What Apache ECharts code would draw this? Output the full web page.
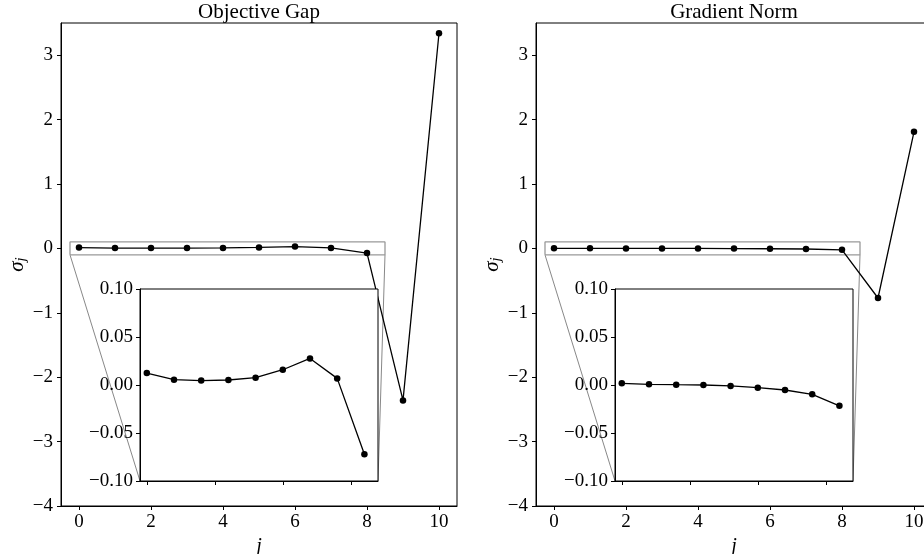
<!DOCTYPE html>
<html>
<head>
<meta charset="utf-8">
<script src="https://cdn.jsdelivr.net/npm/echarts@6/dist/echarts.min.js"></script>
<style>
  html, body { margin: 0; padding: 0; overflow: hidden; background: #fff; }
  #chart { width: 960px; height: 554px; }
</style>
</head>
<body>
<div id="chart"></div>
<script>
// sigma_j per step j, two panels
const steps = [0, 1, 2, 3, 4, 5, 6, 7, 8, 9, 10];
const objectiveGap = [0.0124, 0.0055, 0.0046, 0.0052, 0.0076, 0.0159, 0.0277, 0.0069, -0.0722, -2.36, 3.34];
const gradientNorm = [0.0017, 0.0007, 0.0003, 0.0, -0.001, -0.0028, -0.0052, -0.0097, -0.0217, -0.77, 1.81];
const panelTitles = ['Objective Gap', 'Gradient Norm'];

const mainXTicks = [0, 2, 4, 6, 8, 10];
const mainYTicks = [-4, -3, -2, -1, 0, 1, 2, 3];
const insetXTicks = [0, 2.5, 5, 7.5];
const insetYTicks = [-0.1, -0.05, 0, 0.05, 0.1];
const insetCount = 9; // inset shows j = 0..8

// zoom window (same for both panels)
const zoomX = [-0.25, 8.5];
const zoomY = [-0.1, 0.1];

const FONT = '"Liberation Serif", "DejaVu Serif", serif';
const panelLeft = [61, 536];

const fmtMinus = (v, d) => (v < 0 ? '\u2212' : '') + Math.abs(v).toFixed(d);

const chart = echarts.init(document.getElementById('chart'));

const grids = [], xAxes = [], yAxes = [], series = [], titles = [];

[objectiveGap, gradientNorm].forEach((vals, p) => {
  const left = panelLeft[p];
  const mainIdx = p * 2;
  const insetIdx = p * 2 + 1;
  const pts = steps.map((j, i) => [j, vals[i]]);

  titles.push({
    text: panelTitles[p],
    left: left + 198,
    top: 2,
    padding: 0,
    textAlign: 'center',
    textStyle: { fontFamily: FONT, fontSize: 21, fontWeight: 'normal', color: '#000' }
  });

  grids.push({
    left: left, top: 23, width: 396, height: 483, outerBoundsMode: 'none', containLabel: false,
    show: true, backgroundColor: '#fff', borderColor: '#000', borderWidth: 1, z: 0
  });
  grids.push({
    left: left + 79, top: 289, width: 238, height: 192, outerBoundsMode: 'none', containLabel: false,
    show: true, backgroundColor: '#fff', borderColor: '#000', borderWidth: 1, z: 3
  });

  const baseAxis = {
    type: 'value',
    splitLine: { show: false },
    axisLine: { show: true, onZero: false, lineStyle: { color: '#000', width: 1 } },
    axisTick: { show: true, length: 4, lineStyle: { color: '#000', width: 1 } }
  };

  xAxes.push(Object.assign({}, baseAxis, {
    gridIndex: mainIdx, min: -0.5, max: 10.5,
    axisTick: Object.assign({}, baseAxis.axisTick, { customValues: mainXTicks }),
    axisLabel: { customValues: mainXTicks, margin: 7, fontFamily: FONT, fontSize: 19, color: '#000' },
    name: 'j', nameLocation: 'middle', nameGap: 22,
    nameTextStyle: { fontFamily: FONT, fontStyle: 'italic', fontSize: 20, color: '#000' }
  }));
  yAxes.push(Object.assign({}, baseAxis, {
    gridIndex: mainIdx, min: -4, max: 3.5,
    axisTick: Object.assign({}, baseAxis.axisTick, { customValues: mainYTicks }),
    axisLabel: {
      customValues: mainYTicks, margin: 8, fontFamily: FONT, fontSize: 19, color: '#000',
      formatter: (v) => fmtMinus(v, 0)
    },
    name: '{s|σ}{j|j}', nameLocation: 'middle', nameGap: 32, nameRotate: 90,
    nameTextStyle: {
      color: '#000',
      rich: {
        s: { fontFamily: FONT, fontStyle: 'italic', fontSize: 21, color: '#000' },
        j: { fontFamily: FONT, fontStyle: 'italic', fontSize: 15, color: '#000', padding: [8, 0, 0, 0] }
      }
    }
  }));

  xAxes.push(Object.assign({}, baseAxis, {
    gridIndex: insetIdx, min: zoomX[0], max: zoomX[1], z: 4,
    axisTick: Object.assign({}, baseAxis.axisTick, { customValues: insetXTicks }),
    axisLabel: { show: false }
  }));
  yAxes.push(Object.assign({}, baseAxis, {
    gridIndex: insetIdx, min: zoomY[0], max: zoomY[1], z: 4,
    axisTick: Object.assign({}, baseAxis.axisTick, { customValues: insetYTicks }),
    axisLabel: {
      customValues: insetYTicks, margin: 7, fontFamily: FONT, fontSize: 19, color: '#000',
      formatter: (v) => fmtMinus(v, 2)
    }
  }));

  const lineStyle = { color: '#000', width: 1.3 };
  series.push({
    type: 'line', xAxisIndex: mainIdx, yAxisIndex: mainIdx, data: pts, z: 2,
    symbol: 'circle', symbolSize: 6.5, lineStyle, itemStyle: { color: '#000' }, animation: false
  });
  // zoom window outline on the main axes
  series.push({
    type: 'line', xAxisIndex: mainIdx, yAxisIndex: mainIdx, z: 1, symbol: 'none', animation: false,
    data: [[zoomX[0], zoomY[0]], [zoomX[1], zoomY[0]], [zoomX[1], zoomY[1]], [zoomX[0], zoomY[1]], [zoomX[0], zoomY[0]]],
    lineStyle: { color: '#999', width: 1.3 }
  });
  series.push({
    type: 'line', xAxisIndex: insetIdx, yAxisIndex: insetIdx, data: pts.slice(0, insetCount), z: 5,
    symbol: 'circle', symbolSize: 6.5, lineStyle, itemStyle: { color: '#000' }, clip: true, animation: false
  });
});

chart.setOption({
  animation: false,
  title: titles,
  grid: grids,
  xAxis: xAxes,
  yAxis: yAxes,
  series: series
});

// connector lines from zoom window corners to inset corners
const connectors = [];
[0, 1].forEach((p) => {
  const m = p * 2, s = p * 2 + 1;
  [zoomX[0], zoomX[1]].forEach((x) => {
    const a = chart.convertToPixel({ xAxisIndex: m, yAxisIndex: m }, [x, zoomY[0]]);
    const b = chart.convertToPixel({ xAxisIndex: s, yAxisIndex: s }, [x, zoomY[0]]);
    connectors.push({
      type: 'line', z: 1, silent: true,
      shape: { x1: a[0], y1: a[1], x2: b[0], y2: b[1] },
      style: { stroke: '#888', lineWidth: 1 }
    });
  });
});
chart.setOption({ graphic: connectors });
</script>
</body>
</html>
